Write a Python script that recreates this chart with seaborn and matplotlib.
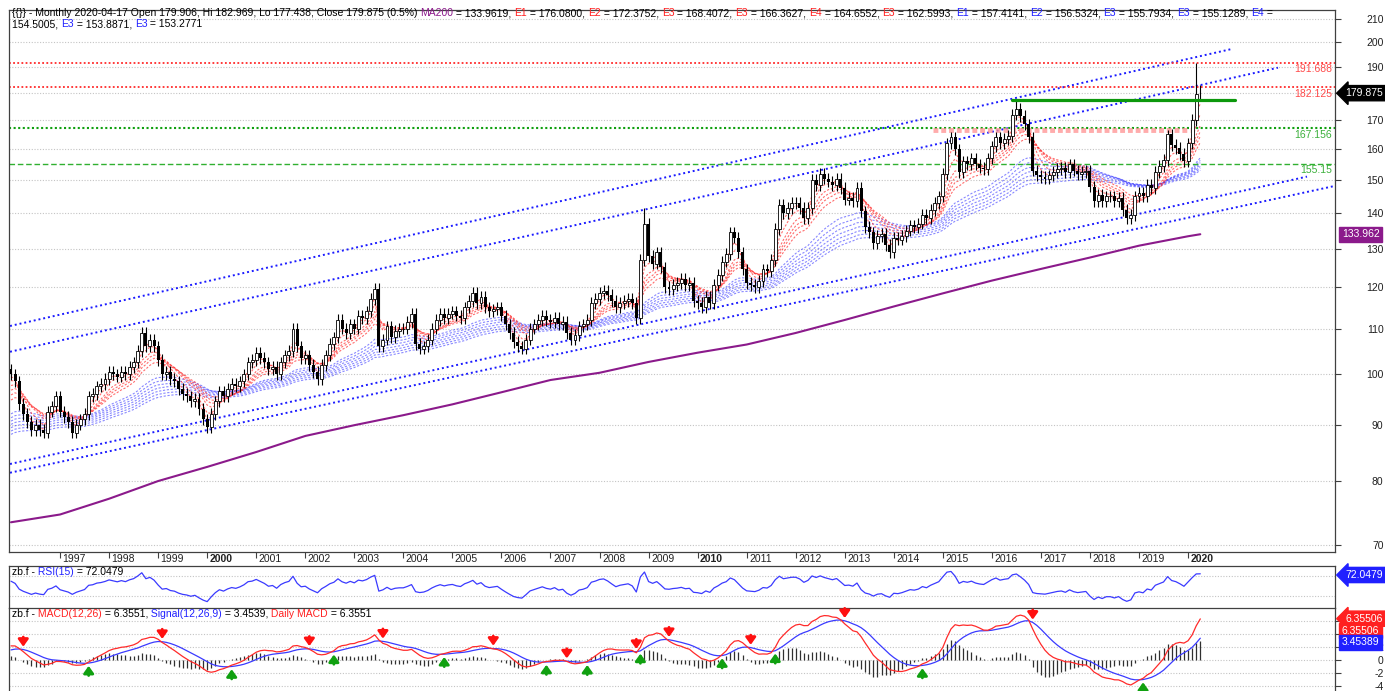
#!/usr/bin/env python

import numpy as np
import pandas as pd
import seaborn as sns
import matplotlib
from matplotlib import pyplot as plt
from matplotlib.offsetbox import TextArea, HPacker, VPacker, AnchoredOffsetbox
from matplotlib.ticker import FixedLocator, FixedFormatter, NullLocator

matplotlib.use("Agg")

W, H = 1385, 691

# monthly closes, Jan 1996 .. Apr 2020
closes_1996_2000 = [
    100, 98.5, 94, 92, 90.5, 89, 90, 89, 88.5, 92.5, 93.5, 95.5,
    92.5, 91.5, 90.5, 88.5, 90, 91, 92, 95.5, 96, 97.5, 98, 99,
    100.5, 100, 99.5, 100.5, 100, 101.5, 102.5, 105, 109, 106, 107.5, 106,
    103, 100, 100.5, 99, 98.5, 97, 96, 95.5, 94.5, 95, 93, 91,
    89.5, 92, 94.5, 96.5, 95.5, 97, 98, 97.5, 98.5, 100, 102.5, 103,
]
closes_2001_2005 = [
    104.5, 103.5, 102.5, 101, 101.5, 100, 102.5, 104, 105, 110, 106, 103.5,
    104, 102, 100.5, 99, 102, 104, 106.5, 108, 112, 110, 109, 111,
    110, 113, 112.5, 114, 117, 119.5, 106, 107.5, 110.5, 108, 109.5, 110,
    110, 111.5, 113.5, 106.5, 105.5, 106, 107.5, 110, 112, 113.5, 112.5, 113.5,
    114, 113, 112.5, 115, 116.5, 118.5, 116, 117.5, 115, 114, 114.5, 115,
]
closes_2006_2010 = [
    113, 111, 109, 107, 106, 105.5, 107.5, 110, 111, 112, 113, 112,
    111.5, 112.5, 111, 111.5, 109, 107.5, 108.5, 110.5, 111, 112, 116, 117,
    118.5, 119, 118, 116.5, 115, 116, 116.5, 117, 116, 112.5, 127, 137,
    128, 126, 129, 125, 120, 119.5, 120.5, 121, 122, 120.5, 121, 116.5,
    116, 115, 117.5, 116, 120.5, 123, 126.5, 128.5, 134.5, 133, 129, 124.5,
]
closes_2011_2015 = [
    121, 120.5, 120, 121.5, 124.5, 124, 127, 135.5, 142.5, 140, 141.5, 143,
    143, 141.5, 138.5, 141.5, 150, 148.5, 152, 150.5, 149.5, 148.5, 150.5, 147.5,
    144, 144.5, 143.5, 147.5, 140.5, 136, 134.5, 131.5, 133.5, 134, 131, 129,
    133, 132.5, 133.5, 135, 136.5, 136, 137, 139.5, 138.5, 141, 143, 145,
    152, 162, 164, 160, 152.5, 156, 155, 157, 155, 154, 153.5, 157,
]
closes_2016_2020 = [
    161, 164, 162, 163.5, 164.5, 172, 174, 171.5, 168.5, 164, 153, 151.5,
    151, 150.5, 151.5, 152.5, 153.5, 154, 152.5, 155, 153, 152, 152.5, 153,
    148, 143.5, 145.5, 143.5, 145, 145, 143.5, 144.5, 141, 138.5, 139.5, 145,
    146, 145, 148.5, 147.5, 152.5, 154.5, 156.5, 165, 161.5, 160.5, 158.5, 156,
    162, 170, 179.5, 179.875,
]
prior_close = 101.0
last_open, last_high, last_low = 179.906, 182.969, 177.438
high_marks = {155: 141.5, 246: 177.2, 283: 166.5, 290: 191.688}
wick = 0.012

# 200 bar moving average, read at each January
ma200_idx = [0, 12, 24, 36, 48, 60, 72, 84, 96, 108, 120, 132, 144, 156,
             168, 180, 192, 204, 216, 228, 240, 252, 264, 276, 288, 291]
ma200_values = [73.4, 74.6, 77.1, 80.0, 82.4, 85.0, 87.9, 89.9, 91.8, 93.9,
                96.3, 98.8, 100.3, 102.6, 104.6, 106.4, 109.0, 112.0, 115.2,
                118.4, 121.6, 124.6, 127.6, 130.8, 133.4, 133.962]

red_spans = [3, 5, 8, 10, 12, 15]
red_seed = [99.0, 98.0, 97.0, 96.0, 95.0, 94.0]
blue_spans = [30, 35, 40, 45, 50, 55, 60]
blue_seed = [91.5, 90.8, 90.2, 89.6, 89.0, 88.4, 87.8]
macd_seed_fast, macd_seed_slow, signal_seed = 96.0, 94.0, 1.4
rsi_seed_gain, rsi_seed_loss = 1.3, 0.7

# trend channels: (bar, price) end points
channels = [
    ((-0.24, 110.6), (298.8, 197.3)),
    ((-0.24, 104.8), (310.0, 189.7)),
    ((-0.24, 82.9), (317.1, 151.1)),
    ((-0.24, 81.4), (323.96, 148.2)),
]
red_levels = [191.688, 182.125]
green_levels = [167.156, 155.15]
resistance = (245.0, 299.5, 177.2)
pink_band = (225.5, 288.5, 166.6)

price_ticks = [70, 80, 90, 100, 110, 120, 130, 140, 150, 160, 170, 180, 190, 200, 210]
price_labels = ["70", "80", "90", "100", "110", "120", "130", "140", "150", "160",
                "170", "", "190", "200", "210"]
years = list(range(1997, 2021))
bold_years = [2000, 2010, 2020]

RED = "#ff2020"
BLUE = "#2020ff"
PURPLE = "#8b1a8b"
GREEN = "#10a010"
K = "#000000"

header_lines = [
    [("{{}} - Monthly 2020-04-17 Open 179.906, Hi 182.969, Lo 177.438, Close 179.875 (0.5%) ", K),
     ("MA200", PURPLE), (" = 133.9619, ", K),
     ("E1", RED), (" = 176.0800, ", K), ("E2", RED), (" = 172.3752, ", K),
     ("E3", RED), (" = 168.4072, ", K), ("E3", RED), (" = 166.3627, ", K),
     ("E4", RED), (" = 164.6552, ", K), ("E3", RED), (" = 162.5993, ", K),
     ("E1", BLUE), (" = 157.4141, ", K), ("E2", BLUE), (" = 156.5324, ", K),
     ("E3", BLUE), (" = 155.7934, ", K), ("E3", BLUE), (" = 155.1289, ", K),
     ("E4", BLUE), (" =", K)],
    [("154.5005, ", K), ("E3", BLUE), (" = 153.8871, ", K), ("E3", BLUE), (" = 153.2771", K)],
]
rsi_header = [[("zb.f -", K), (" RSI(15)", BLUE), (" = 72.0479", K)]]
macd_header = [[("zb.f -", K), (" MACD(12,26)", RED), (" = 6.3551,", K),
                (" Signal(12,26,9)", BLUE), (" = 3.4539,", K),
                (" Daily MACD", RED), (" = 6.3551", K)]]


def ema(seed, values, span):
    s = pd.Series(np.concatenate([[seed], values]))
    return s.ewm(span=span, adjust=False).mean().to_numpy()[1:]


def wilder(seed, values, n=15):
    s = pd.Series(np.concatenate([[seed], values]))
    return s.ewm(alpha=1 / n, adjust=False).mean().to_numpy()[1:]


def panel(fig, top, bottom, left=9, right=1335):
    return fig.add_axes([left / W, 1 - bottom / H, (right - left) / W, (bottom - top) / H])


def header(fig, ax, lines, x_px, y_px, size=7.5):
    rows = []
    for parts in lines:
        areas = [TextArea(t, textprops=dict(color=c, fontsize=size)) for t, c in parts]
        rows.append(HPacker(children=areas, align="baseline", pad=0, sep=0))
    box = VPacker(children=rows, align="left", pad=0, sep=1)
    anchored = AnchoredOffsetbox(
        loc="upper left", child=box, pad=0, borderpad=0, frameon=False,
        bbox_to_anchor=(x_px / W, 1 - y_px / H), bbox_transform=fig.transFigure,
    )
    anchored.set_zorder(12)
    ax.add_artist(anchored)


def tag(ax, y, text, color, arrow=True, x_off=7.2):
    style = "larrow,pad=0.25" if arrow else "square,pad=0.25"
    ax.annotate(
        text, xy=(1, y), xycoords=("axes fraction", "data"),
        xytext=(x_off, 0), textcoords="offset points",
        ha="left", va="center", fontsize=7.5, color="white",
        bbox=dict(boxstyle=style, fc=color, ec=color),
        annotation_clip=False, zorder=15,
    )


def style_spines(ax, hide=()):
    for name, s in ax.spines.items():
        s.set_color("#404040")
        s.set_linewidth(0.9)
        s.set_visible(name not in hide)


def macd_arrow(ax, i, y, up):
    color = "#10a010" if up else "#ff1010"
    ax.annotate("", xy=(i, y), xytext=(0, -9 if up else 9), textcoords="offset points",
                arrowprops=dict(arrowstyle="-|>,head_width=0.25,head_length=0.35",
                                color=color, lw=2.0, shrinkA=0, shrinkB=2),
                annotation_clip=False)


def main():
    closes = np.array(closes_1996_2000 + closes_2001_2005 + closes_2006_2010
                      + closes_2011_2015 + closes_2016_2020, dtype=float)
    n = len(closes)
    idx = np.arange(n)
    opens = np.concatenate([[prior_close], closes[:-1]])
    opens[-1] = last_open
    highs = np.maximum(opens, closes) * (1 + wick)
    lows = np.minimum(opens, closes) * (1 - wick)
    for i, v in high_marks.items():
        highs[i] = v
    highs[-1], lows[-1] = last_high, last_low

    change = closes - np.concatenate([[prior_close], closes[:-1]])
    gain = wilder(rsi_seed_gain, np.clip(change, 0, None))
    loss = wilder(rsi_seed_loss, np.clip(-change, 0, None))
    rsi = 100 * gain / (gain + loss)

    macd = ema(macd_seed_fast, closes, 12) - ema(macd_seed_slow, closes, 26)
    signal = ema(signal_seed, macd, 9)
    hist = macd - signal
    sign = np.sign(hist)
    cross_dn = np.where((sign[:-1] > 0) & (sign[1:] < 0))[0] + 1
    cross_up = np.where((sign[:-1] < 0) & (sign[1:] > 0))[0] + 1

    sns.set_theme(style="white")
    plt.rcParams["font.family"] = ["Liberation Sans", "DejaVu Sans"]

    fig = plt.figure(figsize=(W / 100, H / 100), dpi=100)
    ax = panel(fig, 10, 552)
    rsi_ax = panel(fig, 566, 608)
    macd_ax = panel(fig, 608, 691)
    xlim = (-0.49, 323.96)

    # ---- price panel
    ax.set_yscale("log")
    for span, seed in zip(blue_spans, blue_seed):
        sns.lineplot(x=idx, y=ema(seed, closes, span), ax=ax, color="#3a3aff",
                     lw=0.8, linestyle=(0, (2, 1.5)), alpha=0.6, zorder=2)
    for span, seed in zip(red_spans, red_seed):
        sns.lineplot(x=idx, y=ema(seed, closes, span), ax=ax, color="#ff3030",
                     lw=0.8, linestyle=(0, (2, 1.5)), alpha=0.7, zorder=2)
    sns.lineplot(x=ma200_idx, y=ma200_values, ax=ax, color=PURPLE, lw=1.5, zorder=2)

    for (i0, p0), (i1, p1) in channels:
        ax.plot([i0, i1], [p0, p1], color="#1a1aff", lw=1.4, ls=(0, (1, 1.5)), zorder=2)
    for lvl in red_levels:
        ax.axhline(lvl, color="#ff2a2a", lw=1.3, ls=(0, (1, 1.3)), zorder=2)
        ax.annotate(f"{lvl:g}", xy=(1, lvl), xycoords=("axes fraction", "data"),
                    xytext=(-2, -1), textcoords="offset points", ha="right", va="top",
                    fontsize=7.5, color="#ff4a4a", zorder=5)
    ax.axhline(green_levels[0], color=GREEN, lw=1.5, ls=(0, (1, 1.2)), zorder=2)
    ax.axhline(green_levels[1], color="#30b030", lw=1.0, ls=(0, (4, 2)), zorder=2)
    for lvl in green_levels:
        ax.annotate(f"{lvl:g}", xy=(1, lvl), xycoords=("axes fraction", "data"),
                    xytext=(-2, -1), textcoords="offset points", ha="right", va="top",
                    fontsize=7.5, color="#3cb03c", zorder=5)
    ax.plot(pink_band[:2], [pink_band[2]] * 2, color="#ff9090", lw=3.5,
            ls=(0, (1, 0.6)), alpha=0.75, zorder=2)
    ax.plot(resistance[:2], [resistance[2]] * 2, color="#0c980c", lw=2.3, zorder=4)

    up = closes >= opens
    ax.vlines(idx, lows, highs, color="black", lw=0.8, zorder=3)
    ax.bar(idx[up], (closes - opens)[up], bottom=opens[up], width=0.72,
           facecolor="white", edgecolor="black", lw=0.6, zorder=3)
    ax.bar(idx[~up], (opens - closes)[~up], bottom=closes[~up], width=0.72,
           color="black", lw=0, zorder=3)

    ax.set_xlim(*xlim)
    ax.set_ylim(68.98, 214.0)
    ax.set_xlabel("")
    ax.set_ylabel("")
    ax.yaxis.tick_right()
    ax.yaxis.set_major_locator(FixedLocator(price_ticks))
    ax.yaxis.set_major_formatter(FixedFormatter(price_labels))
    ax.yaxis.set_minor_locator(NullLocator())
    ax.yaxis.set_minor_formatter(FixedFormatter([]))
    ax.tick_params(axis="y", which="major", left=False, right=True, labelleft=False,
                   labelright=True, direction="out", length=4, width=0.8,
                   color="#404040", labelsize=7.5, labelcolor="#202020", pad=31)
    plt.setp(ax.get_yticklabels(), ha="right")
    ax.grid(axis="y", color="#c4c4c4", ls=(0, (1, 1.5)), lw=0.8)
    ax.set_axisbelow(True)
    ax.set_xticks([12 * (y - 1996) for y in years])
    ax.tick_params(axis="x", bottom=True, direction="out", length=4, width=0.8,
                   color="#404040", labelbottom=False)
    for y in years:
        ax.annotate(str(y), xy=(12 * (y - 1996), 0), xycoords=("data", "axes fraction"),
                    xytext=(1.8, -5.2), textcoords="offset points", ha="left", va="center",
                    fontsize=7.5, color="#202020",
                    fontweight="bold" if y in bold_years else "normal",
                    annotation_clip=False)
    style_spines(ax)
    tag(ax, 179.875, "179.875", "black")
    tag(ax, 133.962, "133.962", PURPLE, arrow=False, x_off=5.0)
    header(fig, ax, header_lines, 12, 8)

    # ---- RSI panel
    sns.lineplot(x=idx, y=rsi, ax=rsi_ax, color="#3a3aff", lw=0.9)
    rsi_ax.set_xlim(*xlim)
    rsi_ax.set_ylim(22.55, 85.55)
    rsi_ax.set_xticks([])
    rsi_ax.set_yticks([40, 70])
    rsi_ax.tick_params(axis="y", left=False, right=False, labelleft=False)
    rsi_ax.grid(axis="y", color="#c4c4c4", ls=(0, (1, 1.5)), lw=0.8)
    rsi_ax.set_xlabel("")
    rsi_ax.set_ylabel("")
    style_spines(rsi_ax, hide=("bottom",))
    tag(rsi_ax, 72.0479, "72.0479", BLUE)
    header(fig, rsi_ax, rsi_header, 12, 567)

    # ---- MACD panel
    macd_ax.vlines(idx, 0, hist, color="#303030", lw=0.9)
    sns.lineplot(x=idx, y=signal, ax=macd_ax, color="#3a3aff", lw=0.9)
    sns.lineplot(x=idx, y=macd, ax=macd_ax, color="#ff2a2a", lw=0.9)
    for i in cross_dn:
        macd_arrow(macd_ax, i, max(macd[i], signal[i]), up=False)
    for i in cross_up:
        macd_arrow(macd_ax, i, min(macd[i], signal[i]), up=True)
    macd_ax.set_xlim(*xlim)
    macd_ax.set_ylim(-4.77, 8.0)
    macd_ax.set_xticks([])
    macd_ax.yaxis.tick_right()
    macd_ax.yaxis.set_major_locator(FixedLocator([-4, -2, 0, 2, 4, 6]))
    macd_ax.yaxis.set_major_formatter(FixedFormatter(["-4", "-2", "0", "2", "", ""]))
    macd_ax.tick_params(axis="y", left=False, right=True, labelleft=False, labelright=True,
                        direction="out", length=4, width=0.8, color="#404040",
                        labelsize=7.5, labelcolor="#202020", pad=31)
    plt.setp(macd_ax.get_yticklabels(), ha="right")
    macd_ax.grid(axis="y", color="#c4c4c4", ls=(0, (1, 1.5)), lw=0.8)
    macd_ax.set_xlabel("")
    macd_ax.set_ylabel("")
    style_spines(macd_ax, hide=("bottom",))
    tag(macd_ax, 6.355, "6.35506", RED)
    tag(macd_ax, 4.5, "6.35506", RED, arrow=False, x_off=5.0)
    tag(macd_ax, 2.7, "3.45389", BLUE, arrow=False, x_off=5.0)
    header(fig, macd_ax, macd_header, 12, 609)

    fig.savefig("out.png", dpi=100)


if __name__ == "__main__":
    main()
